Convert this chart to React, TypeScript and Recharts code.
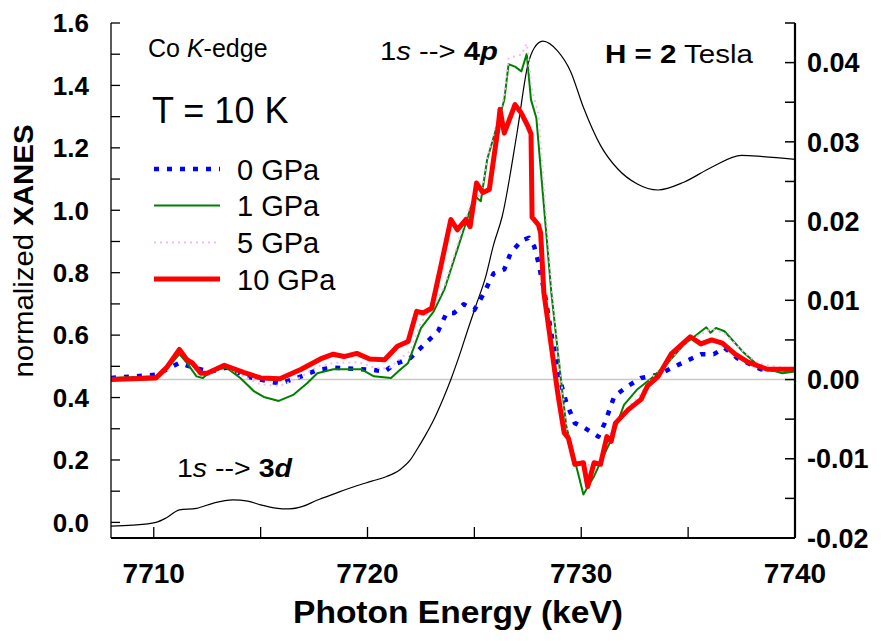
import React from "react";
import { LineChart, Line, XAxis, YAxis, ReferenceLine } from "recharts";

const FONT = "'Liberation Sans', Arial, Helvetica, sans-serif";

// Co K-edge XANES (left axis)
const xanesE = [
  7708.0, 7709.0, 7710.1, 7710.6, 7711.2, 7712.0, 7712.8, 7713.7, 7714.4, 7715.0,
  7715.7, 7716.3, 7717.0, 7717.6, 7718.5, 7719.4, 7720.2, 7720.9, 7721.5, 7722.0,
  7722.3, 7722.7, 7723.1, 7723.5, 7723.9, 7724.3, 7724.7, 7725.1, 7725.5, 7725.9,
  7726.3, 7727.0, 7727.5, 7727.8, 7728.2, 7728.9, 7729.5, 7730.1, 7730.9, 7731.7,
  7732.6, 7733.6, 7734.8, 7736.1, 7737.5, 7738.5, 7740.0,
];
const xanesV = [
  -0.012, -0.009, 0.0, 0.015, 0.04, 0.045, 0.062, 0.072, 0.068, 0.056,
  0.046, 0.043, 0.052, 0.07, 0.093, 0.115, 0.132, 0.147, 0.168, 0.2,
  0.232, 0.278, 0.329, 0.39, 0.458, 0.535, 0.619, 0.7, 0.78, 0.89,
  0.98, 1.25, 1.465, 1.52, 1.542, 1.51, 1.445, 1.33, 1.208, 1.133,
  1.085, 1.065, 1.09, 1.138, 1.176, 1.172, 1.163,
];

// difference spectra (right axis)
const gpa0E = [
  7708.0, 7710.1, 7711.2, 7711.85, 7712.65, 7713.4, 7714.35, 7715.3, 7715.9, 7716.9,
  7717.65, 7718.4, 7719.7, 7720.3, 7720.8, 7721.25, 7722.0, 7722.8, 7723.3, 7723.7,
  7724.05, 7724.5, 7725.0, 7725.45, 7725.9, 7726.4, 7726.7, 7727.2, 7727.55, 7727.8,
  7728.0, 7728.3, 7728.7, 7729.0, 7729.3, 7729.7, 7730.15, 7730.8, 7731.1, 7731.55,
  7732.2, 7732.8, 7733.6, 7734.5, 7735.6, 7736.2, 7736.7, 7737.3, 7738.4, 7740.0,
];
const gpa0V = [
  0.0002, 0.0006, 0.0021, 0.0015, 0.001, 0.0015, 0.0004, -0.0002, -0.0005, 0.0004,
  0.0012, 0.0015, 0.0013, 0.0012, 0.001, 0.0019, 0.0027, 0.0048, 0.0061, 0.0084,
  0.0084, 0.0095, 0.0088, 0.0109, 0.0134, 0.0139, 0.016, 0.0175, 0.0179, 0.0168,
  0.0147, 0.0107, 0.0042, 0.0, -0.0029, -0.0055, -0.0061, -0.0072, -0.0055, -0.0021,
  -0.0008, 0.0002, 0.0006, 0.0018, 0.0032, 0.0032, 0.004, 0.0027, 0.0013, 0.0013,
];

const gpa1E = [
  7708.0, 7710.1, 7710.6, 7711.2, 7711.55, 7712.0, 7712.3, 7712.65, 7713.4, 7714.05,
  7714.7, 7715.15, 7715.85, 7716.55, 7717.2, 7717.65, 7718.4, 7719.7, 7720.3, 7721.1,
  7721.55, 7721.9, 7722.5, 7723.1, 7723.6, 7724.2, 7724.7, 7725.0, 7725.3, 7725.6,
  7726.1, 7726.4, 7726.6, 7726.9, 7727.2, 7727.45, 7727.65, 7727.9, 7728.6, 7729.05,
  7729.3, 7730.1, 7730.6, 7731.4, 7732.0, 7732.6, 7733.3, 7734.05, 7734.8, 7735.85,
  7736.05, 7736.3, 7736.7, 7737.6, 7738.3, 7739.4, 7740.0,
];
const gpa1V = [
  0.0002, 0.0004, 0.0013, 0.0032, 0.0021, 0.0004, 0.0002, 0.001, 0.0015, 0.0002,
  -0.0015, -0.0022, -0.0027, -0.0019, -0.0004, 0.0008, 0.0013, 0.0013, 0.0004, 0.0002,
  0.0013, 0.0021, 0.0065, 0.0086, 0.0114, 0.0164, 0.0206, 0.0232, 0.0225, 0.0278,
  0.0324, 0.0353, 0.0398, 0.0395, 0.0389, 0.0411, 0.0353, 0.033, 0.011, 0.0,
  -0.0059, -0.0145, -0.0122, -0.0076, -0.0032, -0.0013, 0.0002, 0.0021, 0.0044, 0.0066,
  0.0059, 0.0065, 0.0061, 0.0034, 0.0017, 0.0008, 0.001,
];

const gpa5E = [
  7708.0, 7710.1, 7710.6, 7711.2, 7711.6, 7712.1, 7712.6, 7713.4, 7714.2, 7715.0,
  7715.9, 7716.8, 7717.7, 7718.5, 7719.6, 7720.3, 7721.0, 7721.6, 7722.0, 7722.5,
  7723.1, 7723.6, 7724.2, 7724.7, 7725.0, 7725.3, 7725.6, 7726.1, 7726.4, 7726.6,
  7726.9, 7727.2, 7727.45, 7727.7, 7728.0, 7728.6, 7729.1, 7729.4, 7729.8, 7730.2,
  7730.6, 7730.9, 7731.2, 7731.6, 7732.2, 7732.8, 7733.3, 7734.1, 7734.8, 7735.9,
  7736.3, 7736.7, 7737.6, 7738.3, 7739.4, 7740.0,
];
const gpa5V = [
  0.0002, 0.0003, 0.0014, 0.0035, 0.0023, 0.0006, 0.001, 0.0016, 0.0004, -0.0006,
  -0.0008, 0.0002, 0.0017, 0.0021, 0.0022, 0.0015, 0.0014, 0.0028, 0.0036, 0.0072,
  0.0092, 0.0118, 0.017, 0.0212, 0.0236, 0.023, 0.028, 0.0328, 0.0358, 0.0405,
  0.0408, 0.041, 0.0424, 0.0365, 0.0335, 0.012, -0.001, -0.0075, -0.0105, -0.011,
  -0.0104, -0.0102, -0.0075, -0.0058, -0.0035, -0.0018, 0.0002, 0.0024, 0.0045, 0.0062,
  0.0063, 0.0058, 0.0035, 0.002, 0.0015, 0.0015,
];

const gpa10E = [
  7708.0, 7710.1, 7710.6, 7711.2, 7711.55, 7711.8, 7712.2, 7712.5, 7713.3, 7714.2,
  7715.0, 7715.9, 7716.9, 7717.8, 7718.4, 7718.9, 7719.5, 7720.1, 7720.8, 7721.4,
  7721.9, 7722.3, 7722.6, 7723.0, 7723.4, 7723.9, 7724.2, 7724.6, 7724.8, 7725.1,
  7725.4, 7725.7, 7726.1, 7726.2, 7726.4, 7726.9, 7727.2, 7727.5, 7727.65, 7727.7,
  7728.0, 7728.1, 7728.25, 7728.6, 7728.9, 7729.2, 7729.4, 7729.7, 7730.1, 7730.3,
  7730.6, 7730.9, 7731.2, 7731.4, 7731.6, 7732.2, 7732.8, 7733.1, 7733.6, 7734.2,
  7735.1, 7735.6, 7736.1, 7736.6, 7737.2, 7737.8, 7738.7, 7740.0,
];
const gpa10V = [
  0.0, 0.0002, 0.0015, 0.0038, 0.0025, 0.0021, 0.0008, 0.0008, 0.0018, 0.0009,
  0.0002, 0.0001, 0.0013, 0.0026, 0.0032, 0.0029, 0.0033, 0.0026, 0.0025, 0.0042,
  0.0048, 0.0086, 0.0084, 0.009, 0.0139, 0.0202, 0.0189, 0.0202, 0.0193, 0.0248,
  0.0236, 0.024, 0.0316, 0.0341, 0.0311, 0.0347, 0.0336, 0.032, 0.031, 0.0205,
  0.0195, 0.0185, 0.011, 0.0042, -0.0017, -0.0067, -0.0074, -0.0107, -0.0105, -0.0135,
  -0.0105, -0.0107, -0.0072, -0.0078, -0.0055, -0.0038, -0.0025, -0.0008, 0.0004, 0.0032,
  0.0054, 0.0045, 0.005, 0.0046, 0.0032, 0.0022, 0.0013, 0.0013,
];

// axes
const energyTicks = [7710, 7715, 7720, 7725, 7730, 7735, 7740];
const energyLabels = ["7710", "", "7720", "", "7730", "", "7740"];
const xanesTicks = [0, 0.1, 0.2, 0.3, 0.4, 0.5, 0.6, 0.7, 0.8, 0.9, 1.0, 1.1, 1.2, 1.3, 1.4, 1.5, 1.6];
const xanesLabels = ["0.0", "", "0.2", "", "0.4", "", "0.6", "", "0.8", "", "1.0", "", "1.2", "", "1.4", "", "1.6"];
const diffTicks = [-0.02, -0.015, -0.01, -0.005, 0, 0.005, 0.01, 0.015, 0.02, 0.025, 0.03, 0.035, 0.04, 0.045];
const diffLabels = ["-0.02", "", "-0.01", "", "0.00", "", "0.01", "", "0.02", "", "0.03", "", "0.04", ""];

const zip = (e: number[], v: number[]) => e.map((x, i) => ({ e: x, v: v[i] }));

const BottomTick = (props: any) => {
  const { x, y, index } = props;
  return (
    <g>
      <line x1={x} x2={x} y1={y} y2={y - 11} stroke="#000" strokeWidth={1.3} />
      <text x={x} y={y + 45} textAnchor="middle" fontFamily={FONT} fontWeight="bold" fontSize={28} fill="#000">
        {energyLabels[index]}
      </text>
    </g>
  );
};

const TopTick = (props: any) => {
  const { x, y } = props;
  return <line x1={x} x2={x} y1={y} y2={y + 4} stroke="#000" strokeWidth={1.2} />;
};

const LeftTick = (props: any) => {
  const { x, y, index } = props;
  return (
    <g>
      <line x1={x} x2={x + 9} y1={y} y2={y} stroke="#000" strokeWidth={1.3} />
      <text x={x - 22} y={y + 9.3} textAnchor="end" fontFamily={FONT} fontWeight="bold" fontSize={26} fill="#000">
        {xanesLabels[index]}
      </text>
    </g>
  );
};

const RightTick = (props: any) => {
  const { x, y, index } = props;
  return (
    <g>
      <line x1={x - 10} x2={x} y1={y} y2={y} stroke="#000" strokeWidth={1.5} />
      <text x={x + 12} y={y + 9.7} textAnchor="start" fontFamily={FONT} fontWeight="bold" fontSize={27} fill="#000">
        {diffLabels[index]}
      </text>
    </g>
  );
};

const series = [
  { name: "0 GPa", e: gpa0E, v: gpa0V, color: "#0000ff", width: 4.5, dash: "5 8" },
  { name: "1 GPa", e: gpa1E, v: gpa1V, color: "#008000", width: 2, dash: undefined },
  { name: "5 GPa", e: gpa5E, v: gpa5V, color: "#f4bcf4", width: 2, dash: "2 4" },
  { name: "10 GPa", e: gpa10E, v: gpa10V, color: "#ff0000", width: 5, dash: undefined },
];

const legendY = [169, 205.5, 242.5, 279];

export default function App() {
  return (
    <div style={{ position: "absolute", left: 0, top: 0, width: 891, height: 641, background: "#fff" }}>
      <LineChart width={891} height={641} margin={{ top: 23, right: 0, bottom: 0, left: 0 }}>
        <XAxis
          xAxisId="bottom"
          type="number"
          dataKey="e"
          domain={[7708, 7740]}
          ticks={energyTicks}
          interval={0}
          allowDataOverflow
          height={103}
          tickSize={0}
          tickMargin={0}
          tick={<BottomTick />}
          axisLine={{ stroke: "#000", strokeWidth: 2 }}
        />
        <XAxis
          xAxisId="top"
          orientation="top"
          type="number"
          dataKey="e"
          domain={[7708, 7740]}
          ticks={energyTicks}
          interval={0}
          allowDataOverflow
          height={0}
          tickSize={0}
          tickMargin={0}
          tick={<TopTick />}
          axisLine={{ stroke: "#000", strokeWidth: 1.3 }}
        />
        <YAxis
          yAxisId="left"
          type="number"
          domain={[-0.05, 1.6]}
          ticks={xanesTicks}
          interval={0}
          allowDataOverflow
          width={111}
          tickSize={0}
          tickMargin={0}
          tick={<LeftTick />}
          axisLine={{ stroke: "#000", strokeWidth: 1.3 }}
        />
        <YAxis
          yAxisId="right"
          orientation="right"
          type="number"
          domain={[-0.02, 0.045]}
          ticks={diffTicks}
          interval={0}
          allowDataOverflow
          width={96}
          tickSize={0}
          tickMargin={0}
          tick={<RightTick />}
          axisLine={{ stroke: "#000", strokeWidth: 2.2 }}
        />
        <ReferenceLine xAxisId="bottom" yAxisId="right" y={0} stroke="#c8c8c8" strokeWidth={1.5} />
        <Line
          xAxisId="bottom"
          yAxisId="left"
          data={zip(xanesE, xanesV)}
          dataKey="v"
          type="monotone"
          stroke="#000"
          strokeWidth={1.2}
          dot={false}
          activeDot={false}
          isAnimationActive={false}
        />
        {series.map((s) => (
          <Line
            key={s.name}
            name={s.name}
            xAxisId="bottom"
            yAxisId="right"
            data={zip(s.e, s.v)}
            dataKey="v"
            type="linear"
            stroke={s.color}
            strokeWidth={s.width}
            strokeDasharray={s.dash}
            strokeLinejoin="round"
            dot={false}
            activeDot={false}
            isAnimationActive={false}
          />
        ))}
      </LineChart>
      <svg
        width={891}
        height={641}
        style={{ position: "absolute", left: 0, top: 0, pointerEvents: "none" }}
        fontFamily={FONT}
      >
        <text x={148} y={56.5} fontSize={25} fill="#000">
          Co <tspan fontStyle="italic">K</tspan>-edge
        </text>
        <text x={152} y={123} fontSize={36} fill="#000">T = 10 K</text>
        <text x={380} y={60} fontSize={26} fill="#000" textLength={118} lengthAdjust="spacingAndGlyphs">
          1<tspan fontStyle="italic">s</tspan> --&gt; <tspan fontWeight="bold">4</tspan>
          <tspan fontWeight="bold" fontStyle="italic">p</tspan>
        </text>
        <text x={605} y={63} fontSize={26} fill="#000" textLength={148} lengthAdjust="spacingAndGlyphs">
          <tspan fontWeight="bold">H = 2</tspan> Tesla
        </text>
        <text x={177} y={477} fontSize={26} fill="#000" textLength={115} lengthAdjust="spacingAndGlyphs">
          1<tspan fontStyle="italic">s</tspan> --&gt; <tspan fontWeight="bold">3</tspan>
          <tspan fontWeight="bold" fontStyle="italic">d</tspan>
        </text>
        {series.map((s, i) => (
          <g key={s.name}>
            <line
              x1={154}
              x2={220}
              y1={legendY[i]}
              y2={legendY[i]}
              stroke={s.color}
              strokeWidth={s.width}
              strokeDasharray={s.dash}
            />
            <text x={237} y={legendY[i] + 10.5} fontSize={29} fill="#000">{s.name}</text>
          </g>
        ))}
        <text x={458} y={623} fontSize={31} fontWeight="bold" fill="#000" textAnchor="middle" textLength={330} lengthAdjust="spacingAndGlyphs">
          Photon Energy (keV)
        </text>
        <text
          x={33}
          y={251}
          fontSize={27}
          fill="#000"
          textAnchor="middle"
          transform="rotate(-90 33 251)"
          textLength={253}
          lengthAdjust="spacingAndGlyphs"
        >
          normalized <tspan fontWeight="bold">XANES</tspan>
        </text>
      </svg>
    </div>
  );
}
